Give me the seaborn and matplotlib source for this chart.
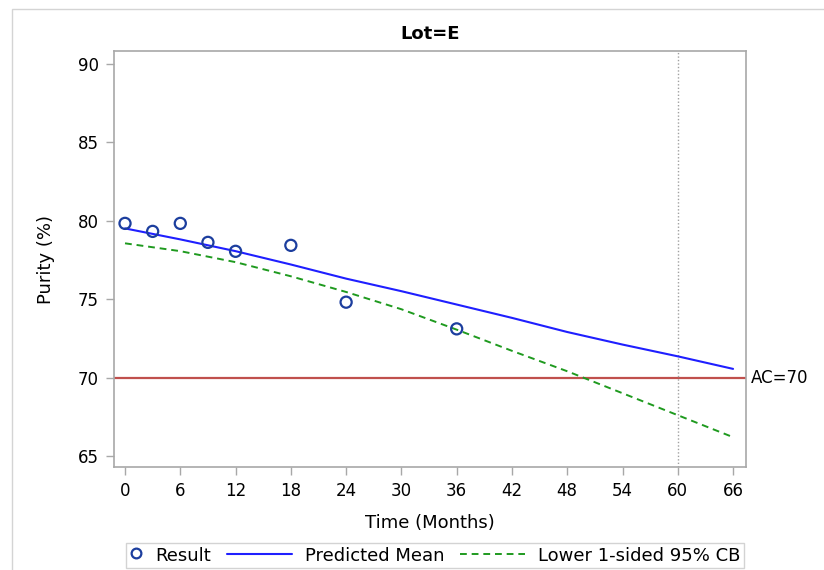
import numpy as np
import pandas as pd
import matplotlib
matplotlib.use("Agg")
import matplotlib.pyplot as plt
from matplotlib.patches import Rectangle
from matplotlib.lines import Line2D
from matplotlib.legend_handler import HandlerBase
import seaborn as sns

# ── Data ───────────────────────────────────────────
result_months = [0, 3, 6, 9, 12, 18, 24, 36]
result_purity = [79.82, 79.31, 79.82, 78.61, 78.04, 78.42, 74.80, 73.10]

curve_months   = [0, 6, 12, 18, 24, 30, 36, 42, 48, 54, 60, 66]
pred_mean      = [79.50, 78.80, 78.05, 77.20, 76.30, 75.50, 74.65, 73.80,
                  72.90, 72.10, 71.35, 70.55]
lower_cb       = [78.55, 78.05, 77.35, 76.45, 75.45, 74.35, 73.05, 71.70,
                  70.40, 69.00, 67.60, 66.20]

ac_limit   = 70
shelf_life = 60
x_ticks    = [0, 6, 12, 18, 24, 30, 36, 42, 48, 54, 60, 66]
y_ticks    = [65, 70, 75, 80, 85, 90]

pts   = pd.DataFrame({"Time": result_months, "Purity": result_purity})
curve = pd.DataFrame({"Time": curve_months, "Mean": pred_mean,
                      "Lower": lower_cb})

# ── Style ──────────────────────────────────────────
sns.set_style("white")
plt.rcParams["font.family"] = ["DejaVu Sans"]
plt.rcParams["text.color"] = "black"
plt.rcParams["axes.labelcolor"] = "black"
plt.rcParams["xtick.color"] = "black"
plt.rcParams["ytick.color"] = "black"

BLUE  = "#1f1fff"
NAVY  = "#1c3e9e"
GREEN = "#1f9a1f"
RED   = "#c0504d"
GRID  = "#a8a8a8"
DASH  = (0, (3.5, 2.5))


class SmallMarkerHandler(HandlerBase):
    # narrow legend slot for the circle marker
    def legend_artist(self, legend, orig_handle, fontsize, handlebox):
        handlebox.width = 9
        m = Line2D([4.5], [handlebox.height / 2 - handlebox.ydescent + 1],
                   marker="o", linestyle="none", markerfacecolor="none",
                   markeredgecolor=NAVY, markeredgewidth=1.6, markersize=7)
        handlebox.add_artist(m)
        return m


fig = plt.figure(figsize=(8.24, 5.70), dpi=100)
ax = fig.add_axes([0.1383, 0.1807, 0.767, 0.7298])

# outer frame of the graph area
fig.add_artist(Rectangle((12 / 824, -0.05), 1.2, 1 - 9 / 570 + 0.05,
                         transform=fig.transFigure, fill=False,
                         edgecolor="#d4d4d4", linewidth=1.0))

sns.lineplot(data=curve, x="Time", y="Mean", ax=ax, color=BLUE,
             linewidth=1.5, legend=False)
sns.lineplot(data=curve, x="Time", y="Lower", ax=ax, color=GREEN,
             linewidth=1.4, linestyle=DASH, legend=False)
sns.scatterplot(data=pts, x="Time", y="Purity", ax=ax, marker="o",
                s=64, facecolor="none", edgecolor=NAVY, linewidth=1.6,
                legend=False, zorder=5)

ax.axhline(ac_limit, color=RED, linewidth=1.6, zorder=1)
ax.axvline(shelf_life, color="#a0a0a0", linewidth=1.0,
           linestyle=(0, (1, 1.5)), zorder=1)
ax.text(1.008, ac_limit, f"AC={ac_limit}", transform=ax.get_yaxis_transform(),
        va="center", ha="left", fontsize=12)

ax.set_xlim(-1.2, 67.4)
ax.set_ylim(64.3, 90.8)
ax.set_xticks(x_ticks)
ax.set_yticks(y_ticks)
ax.tick_params(axis="both", which="major", direction="out", length=6,
               width=1, color=GRID, labelsize=12, pad=5,
               bottom=True, left=True)
for s in ax.spines.values():
    s.set_color(GRID)
    s.set_linewidth(1.2)

ax.set_xlabel("Time (Months)", fontsize=13, labelpad=10)
ax.set_ylabel("Purity (%)", fontsize=13, labelpad=16)
ax.set_title("Lot=E", fontsize=13, fontweight="bold", pad=9)

handles = [
    Line2D([], [], marker="o", linestyle="none"),
    Line2D([], [], color=BLUE, linewidth=1.5),
    Line2D([], [], color=GREEN, linewidth=1.4, linestyle=DASH),
]
labels = ["Result", "Predicted Mean", "Lower 1-sided 95% CB"]
leg = fig.legend(handles, labels, loc="lower center",
                 bbox_to_anchor=(435 / 824, 0.0), ncol=3, fontsize=13,
                 frameon=True, fancybox=False, handlelength=3.6,
                 handletextpad=0.7, columnspacing=0.9, borderpad=0.2,
                 borderaxespad=0.1,
                 handler_map={handles[0]: SmallMarkerHandler()})
leg.get_frame().set_edgecolor("#c8c8c8")
leg.get_frame().set_linewidth(1.0)

fig.savefig("out.png", dpi=100)
plt.close(fig)
